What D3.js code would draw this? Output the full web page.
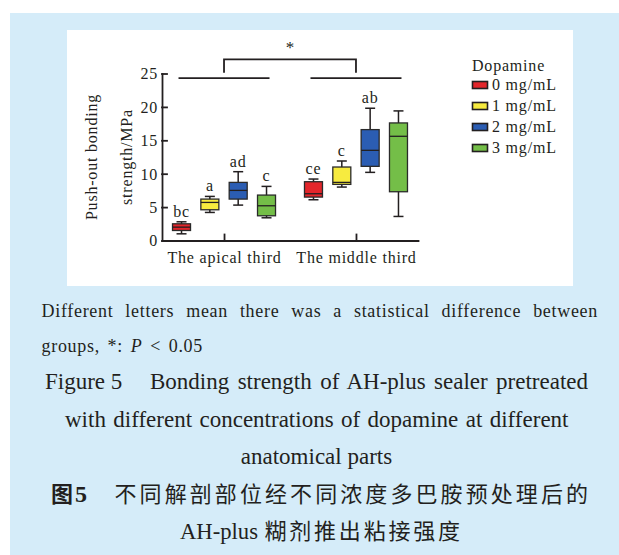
<!DOCTYPE html>
<html>
<head>
<meta charset="utf-8">
<script src="https://cdn.jsdelivr.net/npm/d3@7"></script>
<style>
  body { margin: 0; background: #fff; }
  svg { display: block; }
  .serif { font-family: "Liberation Serif", "Times New Roman", serif; fill: #231f20; }
  .cjk { font-family: "Noto Sans CJK SC", sans-serif; fill: #231f20; }
</style>
</head>
<body>
<div id="chart"></div>
<script>
// categories
const groups = ['The apical third', 'The middle third'];
const doses = ['0 mg/mL', '1 mg/mL', '2 mg/mL', '3 mg/mL'];
const doseColors = ['#e3262b', '#f7eb3f', '#2b5db3', '#74be48'];

// box statistics (MPa), one value per dose
const apicalMin = [1.0, 4.2, 5.3, 3.4];
const apicalQ1  = [1.5, 4.6, 6.2, 3.7];
const apicalMed = [2.0, 5.7, 7.5, 5.2];
const apicalQ3  = [2.5, 6.2, 8.7, 6.8];
const apicalMax = [2.8, 6.6, 10.3, 8.1];

const middleMin = [6.1, 8.0, 10.2, 3.6];
const middleQ1  = [6.5, 8.4, 11.1, 7.3];
const middleMed = [7.0, 8.7, 13.5, 15.6];
const middleQ3  = [8.8, 11.0, 16.6, 17.6];
const middleMax = [9.2, 11.9, 19.8, 19.4];

const apicalLetters = ['bc', 'a', 'ad', 'c'];
const middleLetters = ['ce', 'c', 'ab', ''];

const yTicks = [0, 5, 10, 15, 20, 25];

// significance markers (values in MPa)
const groupLineValue = 24.3;
const bracketTop = 27.1;
const bracketFoot = 25.1;
const starValue = 29.2;

const W = 619, H = 555;

const svg = d3.select('#chart').append('svg')
    .attr('width', W)
    .attr('height', H);

// page background + white figure panel
svg.append('rect').attr('x', 10).attr('y', 13).attr('width', W - 10).attr('height', H - 13).attr('fill', '#d5ecf9');
svg.append('rect').attr('x', 67).attr('y', 30).attr('width', 506).attr('height', 256).attr('fill', '#fff');

// scales
const x = d3.scalePoint().domain(groups).range([162, 418]).padding(0.47);
const inner = d3.scalePoint().domain(doses).range([-42.5, 42.5]);
const y = d3.scaleLinear().domain([0, 25]).range([240.5, 73.5]);
const color = d3.scaleOrdinal().domain(doses).range(doseColors);
const boxW = 18, capW = 10;

// flatten the arrays into box records
const stats = [
    [apicalMin, apicalQ1, apicalMed, apicalQ3, apicalMax, apicalLetters],
    [middleMin, middleQ1, middleMed, middleQ3, middleMax, middleLetters]
];
const boxes = [];
groups.forEach((g, gi) => {
    const s = stats[gi];
    doses.forEach((d, di) => {
        boxes.push({ group: g, dose: d, min: s[0][di], q1: s[1][di], med: s[2][di], q3: s[3][di], max: s[4][di], letter: s[5][di] });
    });
});

const plot = svg.append('g');

// axes
const yAxis = plot.append('g')
    .attr('transform', `translate(${x.range()[0]},0)`)
    .call(d3.axisLeft(y).tickValues(yTicks).tickSize(-5).tickSizeOuter(0).tickPadding(4));

const xAxis = plot.append('g')
    .attr('transform', `translate(0,${y(0)})`)
    .call(d3.axisBottom(x).tickSize(-6).tickSizeOuter(0).tickPadding(11));

[yAxis, xAxis].forEach(a => {
    a.attr('font-family', null).attr('font-size', null);
    a.selectAll('path, line').attr('stroke', '#231f20').attr('stroke-width', 1.8).attr('stroke-linecap', 'square');
    a.selectAll('text').attr('class', 'serif').attr('fill', null)
        .style('font-size', '16px').style('letter-spacing', '0.8px');
});
yAxis.selectAll('text').attr('dy', '0.34em');

// y-axis title, two lines
const titleY = (y(0) + y(25)) / 2;
[['Push-out bonding', 91], ['strength/MPa', 126]].forEach(([t, cx]) => {
    svg.append('text')
        .attr('class', 'serif')
        .attr('transform', `translate(${cx},${titleY}) rotate(-90)`)
        .attr('text-anchor', 'middle')
        .attr('dominant-baseline', 'central')
        .style('font-size', '16px')
        .style('letter-spacing', '0.8px')
        .text(t);
});

// boxes
const bx = d => x(d.group) + inner(d.dose);
const bg = plot.selectAll('g.box').data(boxes).join('g').attr('class', 'box');

bg.append('line')
    .attr('x1', bx).attr('x2', bx)
    .attr('y1', d => y(d.min)).attr('y2', d => y(d.max))
    .attr('stroke', '#231f20').attr('stroke-width', 1.5);
bg.append('line')
    .attr('x1', d => bx(d) - capW / 2).attr('x2', d => bx(d) + capW / 2)
    .attr('y1', d => y(d.max)).attr('y2', d => y(d.max))
    .attr('stroke', '#231f20').attr('stroke-width', 1.5);
bg.append('line')
    .attr('x1', d => bx(d) - capW / 2).attr('x2', d => bx(d) + capW / 2)
    .attr('y1', d => y(d.min)).attr('y2', d => y(d.min))
    .attr('stroke', '#231f20').attr('stroke-width', 1.5);
bg.append('rect')
    .attr('x', d => bx(d) - boxW / 2)
    .attr('y', d => y(d.q3))
    .attr('width', boxW)
    .attr('height', d => y(d.q1) - y(d.q3))
    .attr('fill', d => color(d.dose))
    .attr('stroke', '#2a2a2a').attr('stroke-width', 1.3);
bg.append('line')
    .attr('x1', d => bx(d) - boxW / 2).attr('x2', d => bx(d) + boxW / 2)
    .attr('y1', d => y(d.med)).attr('y2', d => y(d.med))
    .attr('stroke', '#231f20').attr('stroke-width', 1.3);
bg.append('text')
    .attr('class', 'serif')
    .attr('x', bx)
    .attr('y', d => y(d.max) - 5)
    .attr('text-anchor', 'middle')
    .style('font-size', '16px')
    .style('letter-spacing', '0.8px')
    .text(d => d.letter);

// significance lines
const lineSt = { stroke: '#231f20', 'stroke-width': 1.8, fill: 'none' };
groups.forEach(g => {
    const l = plot.append('line')
        .attr('x1', x(g) + inner(doses[0]) - 3)
        .attr('x2', x(g) + inner(doses[doses.length - 1]) + 3)
        .attr('y1', y(groupLineValue)).attr('y2', y(groupLineValue));
    Object.entries(lineSt).forEach(([k, v]) => l.attr(k, v));
});
const br = plot.append('path')
    .attr('d', d3.line()([
        [x(groups[0]), y(bracketFoot)],
        [x(groups[0]), y(bracketTop)],
        [x(groups[1]), y(bracketTop)],
        [x(groups[1]), y(bracketFoot)]
    ]));
Object.entries(lineSt).forEach(([k, v]) => br.attr(k, v));
plot.append('text')
    .attr('class', 'serif')
    .attr('x', (x(groups[0]) + x(groups[1])) / 2)
    .attr('y', y(starValue) + 8)
    .attr('text-anchor', 'middle')
    .style('font-size', '17px')
    .text('*');

// legend
const legend = svg.append('g').attr('transform', 'translate(472,0)');
legend.append('text')
    .attr('class', 'serif')
    .attr('x', 0).attr('y', 71)
    .style('font-size', '16px')
    .style('letter-spacing', '0.8px')
    .text('Dopamine');
const rowY = d3.scalePoint().domain(doses).range([85, 148]);
const li = legend.selectAll('g.item').data(doses).join('g').attr('class', 'item')
    .attr('transform', d => `translate(0,${rowY(d)})`);
li.append('rect')
    .attr('x', 0.5).attr('y', -3.5).attr('width', 15).attr('height', 7)
    .attr('fill', d => color(d))
    .attr('stroke', '#231f20').attr('stroke-width', 1.6);
li.append('text')
    .attr('class', 'serif')
    .attr('x', 20).attr('y', 0).attr('dy', '0.34em')
    .style('font-size', '16px')
    .style('letter-spacing', '0.8px')
    .text(d => d);

// caption
function fitWords(t, target) {
    const len = t.node().getComputedTextLength();
    const n = (t.text().match(/ /g) || []).length;
    if (n > 0) t.style('word-spacing', ((target - len) / n) + 'px');
}

const c1 = svg.append('text').attr('class', 'serif')
    .attr('x', 41.5).attr('y', 317).style('font-size', '18px').style('letter-spacing', '0.7px')
    .text('Different letters mean there was a statistical difference between');
fitWords(c1, 556.5);

const c2 = svg.append('text').attr('class', 'serif')
    .attr('x', 41.5).attr('y', 352).style('font-size', '18px').style('letter-spacing', '0.7px');
c2.append('tspan').text('groups, *: ');
c2.append('tspan').style('font-style', 'italic').text('P');
c2.append('tspan').text(' < 0.05');
fitWords(c2, 161.5);

svg.append('text').attr('class', 'serif')
    .attr('x', 45).attr('y', 389).style('font-size', '23px')
    .text('Figure 5');
const c3 = svg.append('text').attr('class', 'serif')
    .attr('x', 150).attr('y', 389).style('font-size', '23px')
    .text('Bonding strength of AH-plus sealer pretreated');
fitWords(c3, 438);

const c4 = svg.append('text').attr('class', 'serif')
    .attr('x', 65).attr('y', 426.5).style('font-size', '23px')
    .text('with different concentrations of dopamine at different');
fitWords(c4, 503.5);

svg.append('text').attr('class', 'serif')
    .attr('x', 316.5).attr('y', 464).attr('text-anchor', 'middle').style('font-size', '23px')
    .text('anatomical parts');

svg.append('text').attr('class', 'cjk')
    .attr('x', 51).attr('y', 502).style('font-size', '22px').style('font-weight', 'bold')
    .text('图');
svg.append('text').attr('class', 'serif')
    .attr('x', 75).attr('y', 502).style('font-size', '24px').style('font-weight', 'bold')
    .text('5');
svg.append('text').attr('class', 'cjk')
    .attr('x', 114.5).attr('y', 502).style('font-size', '22px')
    .attr('textLength', 473.5).attr('lengthAdjust', 'spacing')
    .text('不同解剖部位经不同浓度多巴胺预处理后的');

svg.append('text').attr('class', 'serif')
    .attr('x', 180).attr('y', 539).style('font-size', '23px')
    .attr('textLength', 78).attr('lengthAdjust', 'spacingAndGlyphs')
    .text('AH-plus');
svg.append('text').attr('class', 'cjk')
    .attr('x', 264.5).attr('y', 539).style('font-size', '22px')
    .attr('textLength', 195.5).attr('lengthAdjust', 'spacing')
    .text('糊剂推出粘接强度');
</script>
</body>
</html>
